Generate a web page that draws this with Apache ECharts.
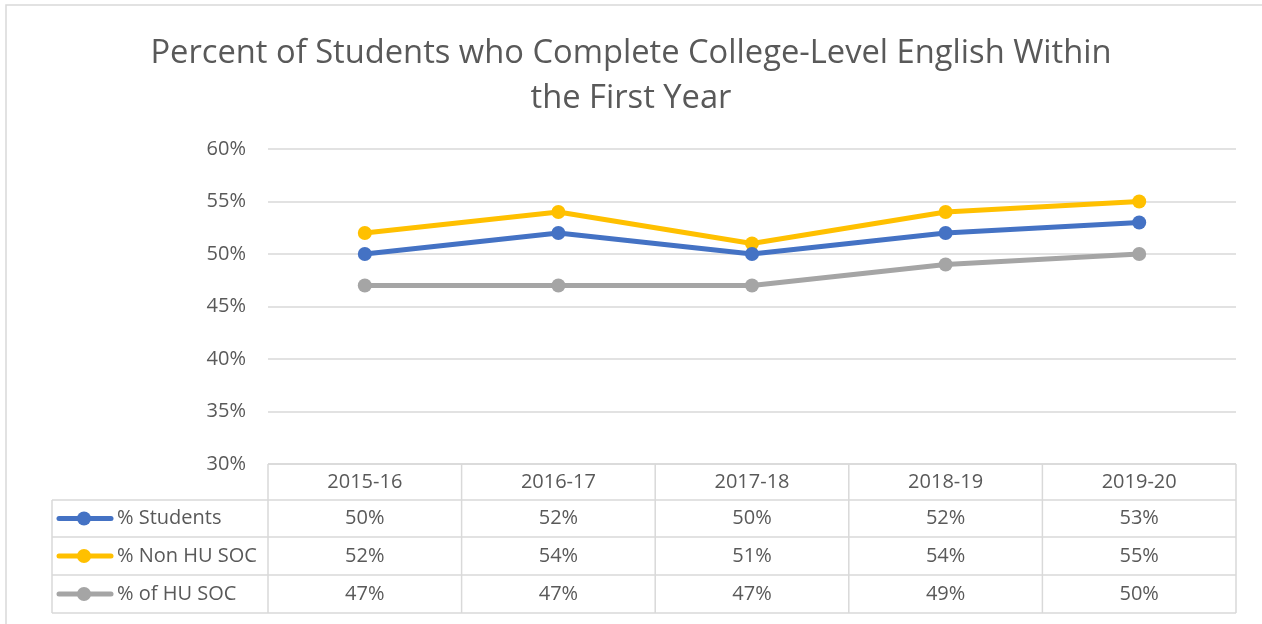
<!DOCTYPE html>
<html>
<head>
<meta charset="utf-8">
<script src="https://cdn.jsdelivr.net/npm/echarts@6/dist/echarts.min.js"></script>
<style>
html,body{margin:0;padding:0;background:#fff;}
#chart{width:1262px;height:624px;}
</style>
</head>
<body>
<div id="chart"></div>
<script>
const categories = ['2015-16', '2016-17', '2017-18', '2018-19', '2019-20'];
const seriesNames = ['% Students', '% Non HU SOC', '% of HU SOC'];
const studentsValues = [50, 52, 50, 52, 53];
const nonHuSocValues = [52, 54, 51, 54, 55];
const huSocValues = [47, 47, 47, 49, 50];
const seriesColors = ['#4472C4', '#FFC000', '#A5A5A5'];
const yTicks = [30, 35, 40, 45, 50, 55, 60];
const titleText = 'Percent of Students who Complete College-Level English Within\nthe First Year';

const allValues = [studentsValues, nonHuSocValues, huSocValues];
const FONT = '"Open Sans", sans-serif';
const TXT = '#595959';
const BORDER = '#D9D9D9';
const FS = 20;

const chart = echarts.init(document.getElementById('chart'));

const grid = { left: 268, right: 26, top: 149, bottom: 160 };

const option = {
  animation: false,
  backgroundColor: '#fff',
  title: {
    text: titleText,
    left: 'center',
    top: 26,
    textStyle: { fontFamily: FONT, fontSize: 32.7, fontWeight: 'normal', color: TXT, lineHeight: 45 }
  },
  grid: grid,
  xAxis: {
    type: 'category',
    data: categories,
    boundaryGap: true,
    axisLine: { show: false },
    axisTick: { show: false },
    axisLabel: { show: false }
  },
  yAxis: {
    type: 'value',
    min: yTicks[0],
    max: yTicks[yTicks.length - 1],
    interval: 5,
    axisLine: { show: false },
    axisTick: { show: false },
    axisLabel: { formatter: '{value}%', fontFamily: FONT, fontSize: FS, color: TXT, margin: 22 },
    splitLine: { lineStyle: { color: BORDER, width: 1.5 } }
  },
  series: seriesNames.map((n, i) => ({
    name: n,
    type: 'line',
    data: allValues[i],
    symbol: 'circle',
    symbolSize: 14,
    lineStyle: { width: 5, color: seriesColors[i] },
    itemStyle: { color: seriesColors[i] },
    z: 3 - i + 2
  }))
};
chart.setOption(option);

// Build the data table under the plot, aligned to the category axis
const yBase = chart.convertToPixel({ yAxisIndex: 0 }, yTicks[0]);
const colW = chart.convertToPixel({ xAxisIndex: 0 }, categories[1]) - chart.convertToPixel({ xAxisIndex: 0 }, categories[0]);
const xLeft = chart.convertToPixel({ xAxisIndex: 0 }, categories[0]) - colW / 2;
const xRight = xLeft + colW * categories.length;
const tableLeft = 52;
const rowH = [36, 37, 38, 38];
const rowY = [yBase];
for (let i = 0; i < rowH.length; i++) rowY.push(rowY[i] + rowH[i]);

const g = [];
const ls = { stroke: BORDER, lineWidth: 1.5 };
// outer frame of chart area
g.push({ type: 'rect', shape: { x: 6, y: 5, width: 1300, height: 700 }, style: { fill: null, stroke: BORDER, lineWidth: 1.5 }, z: 0, silent: true });
// horizontal lines
g.push({ type: 'line', shape: { x1: xLeft, y1: rowY[0], x2: xRight, y2: rowY[0] }, style: ls });
for (let r = 1; r < rowY.length; r++) {
  g.push({ type: 'line', shape: { x1: tableLeft, y1: rowY[r], x2: xRight, y2: rowY[r] }, style: ls });
}
// vertical lines
g.push({ type: 'line', shape: { x1: tableLeft, y1: rowY[1], x2: tableLeft, y2: rowY[4] }, style: ls });
for (let c = 0; c <= categories.length; c++) {
  const x = xLeft + c * colW;
  g.push({ type: 'line', shape: { x1: x, y1: rowY[0], x2: x, y2: rowY[4] }, style: ls });
}
// header
categories.forEach((cat, c) => {
  g.push({ type: 'text', x: xLeft + (c + 0.5) * colW, y: (rowY[0] + rowY[1]) / 2,
    style: { text: cat, fill: TXT, font: FS + 'px ' + FONT, textAlign: 'center', textVerticalAlign: 'middle' } });
});
// rows
seriesNames.forEach((n, r) => {
  const cy = (rowY[r + 1] + rowY[r + 2]) / 2;
  g.push({ type: 'line', shape: { x1: 59, y1: cy, x2: 111, y2: cy }, style: { stroke: seriesColors[r], lineWidth: 5, lineCap: 'round' } });
  g.push({ type: 'circle', shape: { cx: 84, cy: cy, r: 7 }, style: { fill: seriesColors[r] } });
  g.push({ type: 'text', x: 117, y: cy, style: { text: n, fill: TXT, font: FS + 'px ' + FONT, textAlign: 'left', textVerticalAlign: 'middle' } });
  allValues[r].forEach((v, c) => {
    g.push({ type: 'text', x: xLeft + (c + 0.5) * colW, y: cy,
      style: { text: v + '%', fill: TXT, font: FS + 'px ' + FONT, textAlign: 'center', textVerticalAlign: 'middle' } });
  });
});
chart.setOption({ graphic: g });
</script>
</body>
</html>
